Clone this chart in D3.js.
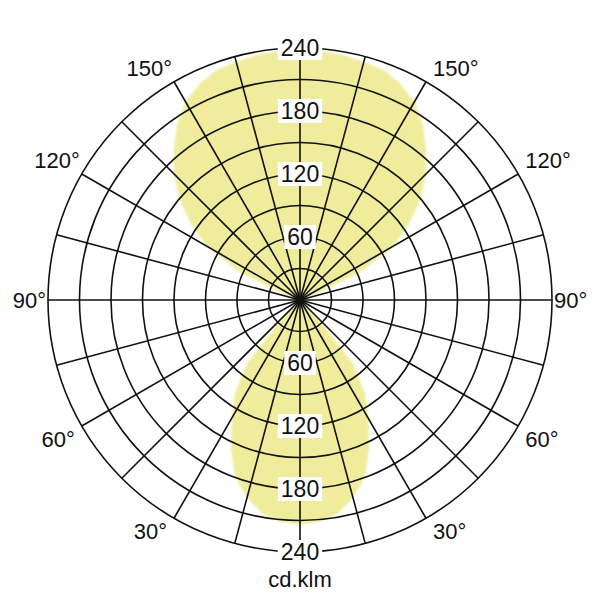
<!DOCTYPE html>
<html>
<head>
<meta charset="utf-8">
<script src="https://cdn.jsdelivr.net/npm/d3@7"></script>
<style>
  html, body { margin: 0; padding: 0; background: #fff; }
  text { font-family: Arial, "Liberation Sans", sans-serif; fill: #111; }
</style>
</head>
<body>
<svg class="polar-chart"></svg>
<script>
// angle from nadir (0 = straight down, 180 = straight up), degrees
const gammaAngles = [
  0, 5, 10, 15, 20, 25, 30, 35, 40, 45, 50, 55, 60, 65, 70, 75, 80, 85, 90,
  95, 100, 105, 110, 115, 120, 125, 130, 135, 140, 145, 150, 155, 160, 165, 170, 175, 180
];
// luminous intensity, cd/klm
const intensity = [
  214, 212, 207, 195, 180, 156, 130, 108, 78, 20, 4, 0, 0, 0, 0, 0, 0, 0, 0,
  0, 0, 3, 18, 65, 103, 127, 150, 170, 187, 204, 218, 227, 233, 235, 237, 238, 238
];
const ringValues = [30, 60, 90, 120, 150, 180, 210, 240];
const ringLabels = [60, 120, 180, 240];
const angleLabels = [30, 60, 90, 120, 150];
const unitLabel = "cd.klm";

const width = 600;
const height = 600;
const cx = 300;
const cy = 300;
const outerRadius = 252;

const svg = d3.select("svg.polar-chart")
  .attr("width", width)
  .attr("height", height);

const rScale = d3.scaleLinear().domain([0, 240]).range([0, outerRadius]);
const toRad = d => d * Math.PI / 180;

const g = svg.append("g").attr("transform", `translate(${cx},${cy})`);

const defs = svg.append("defs");
defs.append("filter")
  .attr("id", "soft")
  .append("feGaussianBlur")
  .attr("stdDeviation", 0.8);

// full closed curve: right half going up from nadir, then left half back down
const curvePoints = [];
gammaAngles.forEach((a, i) => curvePoints.push([Math.PI - toRad(a), intensity[i]]));
for (let i = gammaAngles.length - 2; i > 0; i--) {
  curvePoints.push([Math.PI + toRad(gammaAngles[i]), intensity[i]]);
}

const radialLine = d3.lineRadial()
  .angle(d => d[0])
  .radius(d => rScale(d[1]))
  .curve(d3.curveLinearClosed);

g.append("path")
  .attr("d", radialLine(curvePoints))
  .attr("fill", "#efed9c")
  .attr("stroke", "none")
  .attr("filter", "url(#soft)");

// grid rings
g.selectAll(".ring")
  .data(ringValues)
  .enter()
  .append("circle")
  .attr("class", "ring")
  .attr("r", d => rScale(d))
  .attr("fill", "none")
  .attr("stroke", "#111")
  .attr("stroke-width", 1.6);

// radial spokes every 15 degrees
g.selectAll(".spoke")
  .data(d3.range(0, 360, 15))
  .enter()
  .append("line")
  .attr("class", "spoke")
  .attr("x1", 0)
  .attr("y1", 0)
  .attr("x2", d => outerRadius * Math.sin(toRad(d)))
  .attr("y2", d => outerRadius * Math.cos(toRad(d)))
  .attr("stroke", "#111")
  .attr("stroke-width", 1.6);

g.append("circle").attr("r", 4).attr("fill", "#111");

// intensity labels above and below the centre, on white boxes
const valueLabelData = [];
ringLabels.forEach(v => {
  valueLabelData.push({ v, y: -rScale(v) });
  valueLabelData.push({ v, y: rScale(v) });
});

const valueLabels = g.selectAll(".value-label")
  .data(valueLabelData)
  .enter()
  .append("g")
  .attr("class", "value-label")
  .attr("transform", d => `translate(0,${d.y})`);

valueLabels.append("text")
  .attr("text-anchor", "middle")
  .attr("dy", "0.36em")
  .style("font-size", "23px")
  .text(d => d.v);

valueLabels.each(function () {
  const el = d3.select(this);
  const box = el.select("text").node().getBBox();
  el.insert("rect", "text")
    .attr("x", box.x - 3)
    .attr("y", -12)
    .attr("width", box.width + 6)
    .attr("height", 24)
    .attr("fill", "#fff");
});

// angle labels on both sides
const angleLabelData = [];
angleLabels.forEach(a => {
  angleLabelData.push({ a, side: -1 });
  angleLabelData.push({ a, side: 1 });
});

g.selectAll(".angle-label")
  .data(angleLabelData)
  .enter()
  .append("text")
  .attr("class", "angle-label")
  .attr("text-anchor", d => (d.side < 0 ? "end" : "start"))
  .attr("x", d => {
    const ex = d.side * outerRadius * Math.sin(toRad(d.a));
    let pad = 7;
    if (d.a === 90) pad = 2;
    else if (d.side < 0 && d.a > 90) pad = 2;
    return ex + d.side * pad;
  })
  .attr("y", d => {
    const ey = outerRadius * Math.cos(toRad(d.a));
    const off = d.a === 90 ? 0 : (d.a > 90 ? -14 : 13);
    return ey + off;
  })
  .attr("dy", "0.36em")
  .style("font-size", "22px")
  .text(d => d.a + "°");

svg.append("text")
  .attr("x", cx)
  .attr("y", 579)
  .attr("dy", "0.36em")
  .attr("text-anchor", "middle")
  .style("font-size", "22px")
  .text(unitLabel);
</script>
</body>
</html>
